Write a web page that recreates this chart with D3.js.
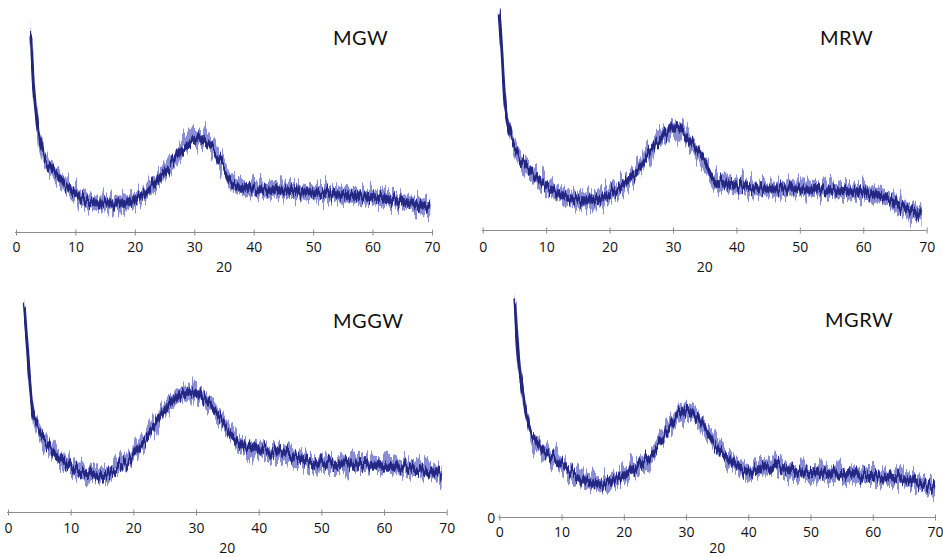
<!DOCTYPE html>
<html>
<head>
<meta charset="utf-8">
<script src="https://cdn.jsdelivr.net/npm/d3@7"></script>
<style>
  html, body { margin: 0; padding: 0; background: #ffffff; }
  svg { display: block; }
</style>
</head>
<body>
<svg id="chart" width="943" height="557"></svg>
<script>
// ---------------- DATA ----------------
const panelNames = ["MGW", "MRW", "MGGW", "MGRW"];
const xTicks = [0, 10, 20, 30, 40, 50, 60, 70];
const xTitle = "20";

const mgwTheta     = [2.5, 2.9, 3.5, 4.6, 6.3, 8.5, 10.8, 14, 17, 19.7, 22.5, 25.4, 28.2, 30.4, 32, 34.3, 36.5, 39.4, 45, 50.6, 56.2, 61.8, 69.7];
const mgwIntensity = [197, 152, 112, 80, 62, 47, 35, 29, 29, 32, 44, 62, 85, 94, 92, 72, 49, 44, 42, 40, 37, 34, 25];

const mrwTheta     = [2.6, 3.0, 3.5, 4.3, 5.9, 8.5, 11.1, 13.8, 16.4, 19, 21.6, 24.3, 26.9, 29.5, 30.8, 32.7, 34.8, 36.9, 40, 45.3, 50.5, 55.8, 61, 63.6, 66.3, 69.2];
const mrwIntensity = [217, 180, 130, 97, 73, 53, 40, 32, 30, 33, 43, 60, 83, 100, 102, 90, 70, 48, 45, 42, 42, 40, 37, 33, 23, 17];

const mggwTheta     = [2.6, 3.0, 3.5, 4.0, 5.1, 6.7, 9.4, 12, 14.7, 17.3, 20, 22.7, 25.3, 28, 29.6, 31.7, 33.8, 36, 38.6, 43.9, 49.3, 54.6, 59.9, 65.2, 69.2];
const mggwIntensity = [206, 172, 129, 99, 82, 65, 49, 39, 37, 45, 57, 82, 105, 119, 120, 112, 95, 75, 64, 59, 50, 49, 47, 44, 37];

const mgrwTheta     = [2.5, 3.05, 3.86, 4.9, 6.0, 8.7, 11.4, 14, 16.7, 19.4, 22.1, 24.7, 27.4, 29.6, 30.6, 32.8, 35.5, 38.1, 40.8, 44, 46.7, 51.5, 56.9, 62.2, 67, 70];
const mgrwIntensity = [217, 161, 121, 87, 74, 59, 46, 36, 34, 41, 51, 64, 91, 107, 106, 91, 67, 51, 46, 52, 46, 44, 42, 41, 36, 29];

const thetas = [mgwTheta, mrwTheta, mggwTheta, mgrwTheta];
const intensities = [mgwIntensity, mrwIntensity, mggwIntensity, mgrwIntensity];

// ---------------- LAYOUT (pixel placement of each panel) ----------------
const layout = [
  { x0: 16,    x1: 432,   axisY: 232.5, labelY: 253, titleY: 272, nameX: 333, nameY: 45,  yZero: false },
  { x0: 482.7, x1: 926.7, axisY: 230.5, labelY: 253, titleY: 272, nameX: 820, nameY: 45,  yZero: false },
  { x0: 8,     x1: 446.7, axisY: 512.5, labelY: 534, titleY: 553, nameX: 333, nameY: 328, yZero: false },
  { x0: 499.3, x1: 935,   axisY: 517.5, labelY: 538, titleY: 553, nameX: 825, nameY: 327, yZero: true }
];

const svg = d3.select("#chart");
const defs = svg.append("defs");

function makeJag(id, seed, scale, freq) {
  const f = defs.append("filter").attr("id", id)
    .attr("x", "-5%").attr("y", "-30%").attr("width", "110%").attr("height", "160%")
    .attr("color-interpolation-filters", "sRGB");
  f.append("feTurbulence").attr("type", "fractalNoise")
    .attr("baseFrequency", freq + " 0.01").attr("numOctaves", 2).attr("seed", seed).attr("result", "t");
  const ct = f.append("feComponentTransfer").attr("in", "t").attr("result", "t2");
  ct.append("feFuncR").attr("type", "linear").attr("slope", 0).attr("intercept", 0.5);
  f.append("feDisplacementMap").attr("in", "SourceGraphic").attr("in2", "t2")
    .attr("scale", scale).attr("xChannelSelector", "R").attr("yChannelSelector", "G");
}
makeJag("jagOuter", 3, 30, 0.4);
makeJag("jagInner", 11, 20, 0.45);

const fontTick = "'Open Sans', 'DejaVu Sans', sans-serif";
const fontName = "Lato, 'Open Sans', sans-serif";

layout.forEach((L, i) => {
  const g = svg.append("g");
  const x = d3.scaleLinear().domain([0, 70]).range([L.x0, L.x1]);
  const y = d3.scaleLinear().domain([0, 220]).range([L.axisY, L.axisY - 220]);

  const pts = thetas[i].map((t, k) => ({ t: t, v: intensities[i][k] }));

  const outer = d3.area().curve(d3.curveMonotoneX)
    .x(d => x(d.t)).y0(d => y(d.v) + 8).y1(d => y(d.v) - 8);
  const inner = d3.area().curve(d3.curveMonotoneX)
    .x(d => x(d.t)).y0(d => y(d.v) + 4).y1(d => y(d.v) - 4);
  const mid = d3.line().curve(d3.curveMonotoneX).x(d => x(d.t)).y(d => y(d.v));

  g.append("g").attr("filter", "url(#jagOuter)")
    .append("path").datum(pts).attr("d", outer)
    .attr("fill", "#6b70c8").attr("fill-opacity", 0.8);
  const gi = g.append("g").attr("filter", "url(#jagInner)");
  gi.append("path").datum(pts).attr("d", inner).attr("fill", "#2a2d8c");
  gi.append("path").datum(pts).attr("d", mid).attr("fill", "none")
    .attr("stroke", "#23267f").attr("stroke-width", 3);

  // x axis
  const ax = g.append("g").attr("transform", `translate(0,${L.axisY})`)
    .call(d3.axisBottom(x).tickValues(xTicks).tickSize(0).tickFormat(d3.format("d")));
  ax.select(".domain").attr("stroke", "#8c8c8c").attr("stroke-width", 1.2)
    .attr("d", `M${L.x0 - 1},0H${L.x1}`);
  ax.selectAll(".tick line").attr("y1", -3).attr("y2", 3).attr("stroke", "#8c8c8c");
  ax.selectAll(".tick text").attr("y", L.labelY - L.axisY - 11).attr("dy", "0.71em")
    .attr("fill", "#111").style("font-family", fontTick).style("font-size", "14px");

  if (L.yZero) {
    g.append("text").attr("x", L.x0 - 4).attr("y", L.axisY + 5)
      .attr("text-anchor", "end").attr("fill", "#111")
      .style("font-family", fontTick).style("font-size", "14px").text("0");
  }

  g.append("text").attr("x", (L.x0 + L.x1) / 2).attr("y", L.titleY)
    .attr("text-anchor", "middle").attr("fill", "#111")
    .style("font-family", fontTick).style("font-size", "14px").text(xTitle);

  g.append("text").attr("x", L.nameX).attr("y", L.nameY)
    .attr("fill", "#111").style("font-family", fontName).style("font-size", "20px")
    .style("letter-spacing", "0.5px").text(panelNames[i]);
});
</script>
</body>
</html>
